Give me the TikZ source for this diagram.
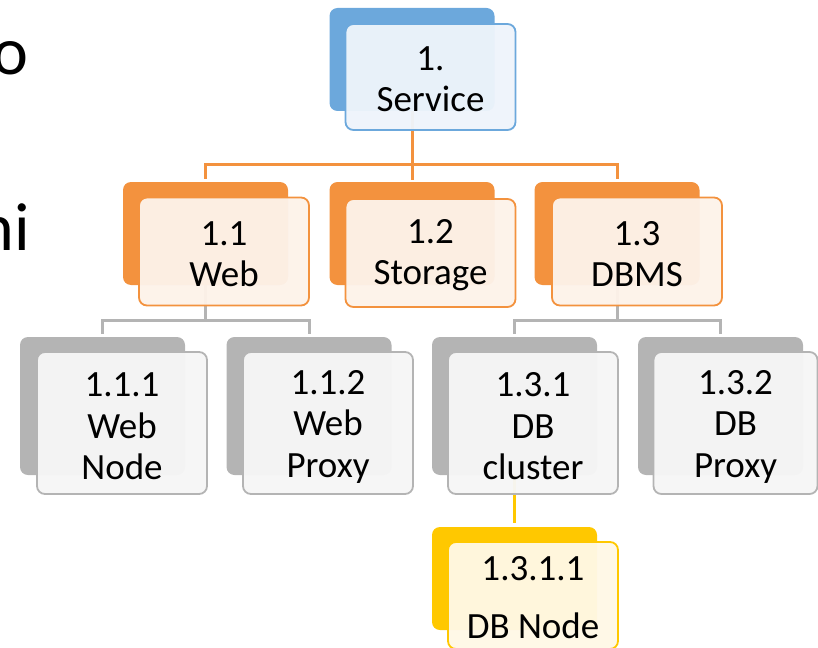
\documentclass[tikz,border=0pt]{standalone}
\usepackage{fontspec}
\setmainfont{Carlito}
\definecolor{srvblue}{RGB}{108, 168, 220}
\definecolor{bluepale}{RGB}{238, 244, 251}
\definecolor{wbsorange}{RGB}{243, 146, 62}
\definecolor{orangepale}{RGB}{253, 242, 233}
\definecolor{wbsgrey}{RGB}{180, 180, 180}
\definecolor{greypale}{RGB}{246, 246, 246}
\definecolor{wbsyellow}{RGB}{255, 200, 0}
\definecolor{yellowpale}{RGB}{255, 248, 230}
\tikzset{%
    backbox/.style={%
        rounded corners=8pt,
        minimum width=165pt,
        inner sep=0pt,
        fill=#1
    },
    frontbox/.style 2 args={%
        rounded corners=8pt,
        minimum width=170pt,
        inner sep=0pt,
        draw=#1,
        line width=1.8pt,
        fill=#2,
        fill opacity=0.96,
        text opacity=1,
        align=center,
        font=\fontsize{37}{41}\selectfont
    },
    link/.style={line width=3pt, draw=#1}
}

\begin{document}
\begin{tikzpicture}[x=1pt, y=-1pt]

    \useasboundingbox (0, 0) rectangle (818, 647);

    % Cut-off slide text
    \node[anchor=base east, inner sep=0pt, font=\fontsize{68}{80}\selectfont]
        (cuttop) at (29, 75) {o};
    \node[anchor=base east, inner sep=0pt, font=\fontsize{68}{80}\selectfont]
        (cutmid) at (30, 250) {ni};

    % Back boxes
    \node[backbox=srvblue, minimum height=103pt] (srvback) at (412, 59.5) {};

    \node[backbox=wbsorange, minimum height=103pt] (webback) at (205.5, 233.5) {};
    \node[backbox=wbsorange, minimum height=103pt] (storback) at (412, 233.5) {};
    \node[backbox=wbsorange, minimum height=103pt] (dbmsback) at (617, 233.5) {};

    \node[backbox=wbsgrey, minimum height=138pt] (wnodeback) at (102.5, 406) {};
    \node[backbox=wbsgrey, minimum height=138pt] (wproxyback) at (309, 406) {};
    \node[backbox=wbsgrey, minimum height=138pt] (clusterback) at (514.5, 406) {};
    \node[backbox=wbsgrey, minimum height=138pt] (dbproxyback) at (720.5, 406) {};

    \node[backbox=wbsyellow, minimum height=103pt] (dbnodeback) at (514.5, 578.5) {};

    % Connecting service to its parts
    \draw[link=wbsorange] (srvback.south) -- ++(0, 53) coordinate (srvbus);
    \draw[link=wbsorange, shorten >=3pt] (srvbus) -| (webback.north);
    \draw[link=wbsorange, shorten >=2pt] (srvbus) -- (storback.north);
    \draw[link=wbsorange, shorten >=3pt] (srvbus) -| (dbmsback.north);

    % Connecting web and DBMS to theirs
    \draw[link=wbsgrey] (webback.south) -- ++(0, 35) coordinate (webbus);
    \draw[link=wbsgrey, shorten >=3pt] (webbus) -| (wnodeback.north);
    \draw[link=wbsgrey, shorten >=3pt] (webbus) -| (wproxyback.north);

    \draw[link=wbsgrey] (dbmsback.south) -- ++(0, 35) coordinate (dbmsbus);
    \draw[link=wbsgrey, shorten >=3pt] (dbmsbus) -| (clusterback.north);
    \draw[link=wbsgrey, shorten >=3pt] (dbmsbus) -| (dbproxyback.north);

    \draw[link=wbsyellow, shorten >=4pt] (clusterback.south) -- (dbnodeback.north);

    % Front boxes
    \node[frontbox={srvblue}{bluepale}, minimum height=106pt] (srv) at (430.5, 77)
        {\rule{0pt}{29pt}1.\\Service};

    \node[frontbox={wbsorange}{orangepale}, minimum height=108pt] (web) at (224, 251.5)
        {\rule{0pt}{29pt}1.1\\Web};
    \node[frontbox={wbsorange}{orangepale}, minimum height=108pt] (stor) at (430.5, 253)
        {\rule{0pt}{29pt}1.2\\Storage};
    \node[frontbox={wbsorange}{orangepale}, minimum height=108pt] (dbms) at (637, 251.5)
        {\rule{0pt}{29pt}1.3\\DBMS};

    \node[frontbox={wbsgrey}{greypale}, minimum height=142pt,
          font=\fontsize{37}{41.5}\selectfont] (wnode) at (122, 423)
        {\rule{0pt}{31pt}1.1.1\\Web\\Node};
    \node[frontbox={wbsgrey}{greypale}, minimum height=142pt,
          font=\fontsize{37}{41.5}\selectfont] (wproxy) at (328, 423)
        {\rule{0pt}{31pt}1.1.2\\Web\\Proxy};
    \node[frontbox={wbsgrey}{greypale}, minimum height=142pt,
          font=\fontsize{37}{41.5}\selectfont] (cluster) at (533, 423)
        {\rule{0pt}{31pt}1.3.1\\DB\\cluster};
    \node[frontbox={wbsgrey}{greypale}, minimum height=142pt, minimum width=164pt,
          font=\fontsize{37}{41.5}\selectfont] (dbproxy) at (735.5, 423)
        {\rule{0pt}{31pt}1.3.2\\DB\\Proxy};

    \node[frontbox={wbsyellow}{yellowpale}, minimum height=107pt,
          font=\fontsize{37}{58}\selectfont] (dbnode) at (533, 595.5)
        {\rule{0pt}{29pt}1.3.1.1\\DB Node};

\end{tikzpicture}
\end{document}
